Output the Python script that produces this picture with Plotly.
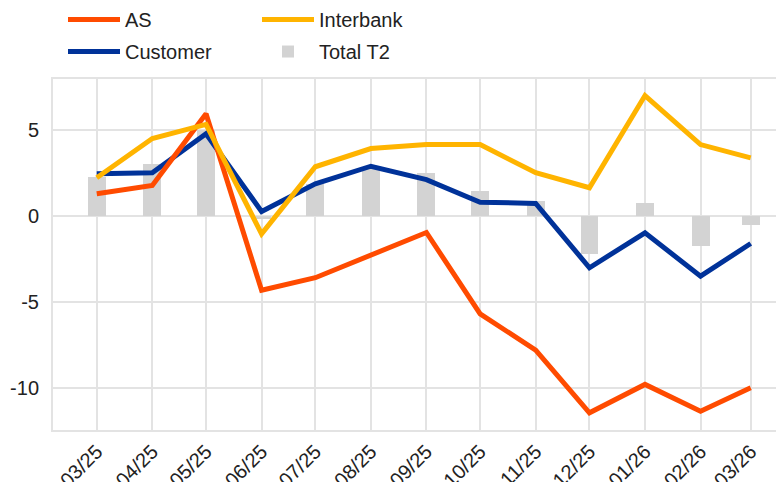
import pandas as pd
import plotly.graph_objects as go

months = pd.date_range("2025-03-01", "2026-03-01", freq="MS")

as_vals = [1.28, 1.76, 5.93, -4.33, -3.6, -2.25, -0.97, -5.7, -7.81, -11.45, -9.8, -11.36, -10.0]
customer = [2.44, 2.5, 4.77, 0.25, 1.86, 2.88, 2.1, 0.79, 0.72, -3.02, -0.99, -3.51, -1.61]
interbank = [2.21, 4.49, 5.31, -1.05, 2.85, 3.91, 4.14, 4.14, 2.5, 1.63, 6.99, 4.14, 3.37]
total_t2 = [2.25, 3.02, 5.0, -0.2, 1.85, 2.85, 2.5, 1.43, 0.85, -2.21, 0.76, -1.73, -0.56]

y_ticks = [-10, -5, 0, 5]
y_labels = ["-10", "-5", "0", "5"]

FONT = "Liberation Sans, Arial, sans-serif"
GRID = "#e3e3e3"

# page body has an 8px margin, so the figure is 8px smaller than the window
W, H = 776, 474

fig = go.Figure()
fig.add_trace(go.Bar(
    x=months, y=total_t2, name="Total T2", width=10 * 86400000,
    marker=dict(color="#d3d3d3", line_width=0),
    legend="legend2", legendrank=2, legendgroup="t2",
))
fig.add_trace(go.Scatter(
    x=months, y=customer, name="Customer", mode="lines",
    line=dict(color="#003299", width=5),
    legend="legend", legendrank=2, legendgroup="cust",
))
fig.add_trace(go.Scatter(
    x=months, y=as_vals, name="AS", mode="lines",
    line=dict(color="#ff4b00", width=5),
    legend="legend", legendrank=1, legendgroup="as",
))
fig.add_trace(go.Scatter(
    x=months, y=interbank, name="Interbank", mode="lines",
    line=dict(color="#ffb400", width=5),
    legend="legend2", legendrank=1, legendgroup="ib",
))

legend_style = dict(
    orientation="v", xref="container", yref="paper",
    xanchor="left", yanchor="top", y=1.225,
    font=dict(size=20, color="#222222", family=FONT),
    bgcolor="rgba(0,0,0,0)", tracegroupgap=3, traceorder="grouped",
    itemwidth=52,
)

fig.update_layout(
    width=W, height=H,
    margin=dict(l=45, r=0, t=71, b=52, autoexpand=False),
    paper_bgcolor="white", plot_bgcolor="white",
    font=dict(family=FONT, size=20, color="#222222"),
    bargap=0,
    legend=dict(legend_style, x=55 / W),
    legend2=dict(legend_style, x=249 / W),
)
fig.update_xaxes(
    type="date",
    range=["2025-02-04 14:00", "2026-03-19 14:00"],
    tickmode="array", tickvals=months, ticktext=[d.strftime("%m/%y") for d in months],
    tickangle=-45, tickfont=dict(size=20),
    showgrid=True, gridcolor=GRID, gridwidth=1.5,
    showline=True, linecolor=GRID, linewidth=2, mirror=True,
    ticks="", automargin=False,
)
fig.update_yaxes(
    range=[-12.45, 7.95],
    tickmode="array", tickvals=y_ticks, ticktext=y_labels,
    tickfont=dict(size=20),
    showgrid=True, gridcolor=GRID, gridwidth=1.5,
    zeroline=False,
    showline=True, linecolor=GRID, linewidth=2,
    ticks="", ticklabelstandoff=8, automargin=False,
)

fig.write_html("out.html")
